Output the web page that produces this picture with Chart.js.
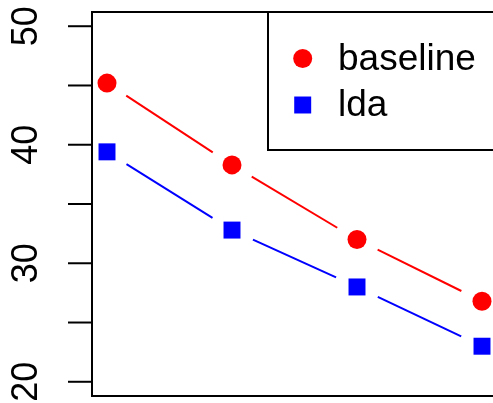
<!DOCTYPE html>
<html>
<head>
<meta charset="utf-8">
<script src="https://cdn.jsdelivr.net/npm/chart.js@4/dist/chart.umd.min.js"></script>
<style>
  html, body { margin: 0; padding: 0; background: #fff; overflow: hidden; }
  canvas { display: block; }
</style>
</head>
<body>
<canvas id="c" width="493" height="403"></canvas>
<script>
// x positions of the four runs
const categories = [1, 2, 3, 4];
// series values
const baseline = [45.2, 38.3, 32.0, 26.8];
const lda = [39.4, 32.8, 28.0, 23.0];
// y axis ticks and which of them carry a label
const yTickValues = [20, 25, 30, 35, 40, 45, 50];
const yTickLabels = ['20', '30', '40', '50'];

const FONT = '"Liberation Sans", Arial, Helvetica, sans-serif';

// R-style "b" lines: segments between points, leaving a gap around each marker
const gappedLines = {
  id: 'gappedLines',
  beforeDatasetsDraw(chart) {
    const ctx = chart.ctx;
    const gap = 23;
    chart.data.datasets.forEach((ds, i) => {
      const pts = chart.getDatasetMeta(i).data;
      ctx.save();
      ctx.strokeStyle = ds.borderColor;
      ctx.lineWidth = 2;
      for (let k = 0; k < pts.length - 1; k++) {
        const a = pts[k], b = pts[k + 1];
        const dx = b.x - a.x, dy = b.y - a.y;
        const len = Math.hypot(dx, dy);
        if (len <= 2 * gap) continue;
        const ux = dx / len, uy = dy / len;
        ctx.beginPath();
        ctx.moveTo(a.x + ux * gap, a.y + uy * gap);
        ctx.lineTo(b.x - ux * gap, b.y - uy * gap);
        ctx.stroke();
      }
      ctx.restore();
    });
  }
};

// plot frame (its right side runs past the canvas edge), left axis with
// rotated labels, and the top-right legend box
const frameAndLegend = {
  id: 'frameAndLegend',
  afterDraw(chart) {
    const ctx = chart.ctx;
    const area = chart.chartArea;
    const ys = chart.scales.y;
    const W = chart.width;
    ctx.save();
    ctx.strokeStyle = '#000';
    ctx.lineWidth = 2;
    ctx.lineCap = 'square';
    ctx.beginPath();
    ctx.moveTo(W + 5, area.top);
    ctx.lineTo(area.left, area.top);
    ctx.lineTo(area.left, area.bottom);
    ctx.lineTo(W + 5, area.bottom);
    ctx.stroke();

    // ticks
    ctx.lineCap = 'butt';
    yTickValues.forEach(v => {
      const py = ys.getPixelForValue(v);
      ctx.beginPath();
      ctx.moveTo(area.left - 24, py);
      ctx.lineTo(area.left, py);
      ctx.stroke();
    });
    // labels, reading bottom to top
    ctx.fillStyle = '#000';
    ctx.font = '36px ' + FONT;
    ctx.textAlign = 'center';
    ctx.textBaseline = 'alphabetic';
    yTickLabels.forEach(t => {
      const py = ys.getPixelForValue(Number(t));
      ctx.save();
      ctx.translate(37, py);
      ctx.rotate(-Math.PI / 2);
      ctx.fillText(t, 0, 0);
      ctx.restore();
    });

    // legend box
    const lx = 268, ly = area.top, lb = 150;
    ctx.fillStyle = '#fff';
    ctx.fillRect(lx, ly, W - lx + 10, lb - ly);
    ctx.strokeRect(lx, ly, W - lx + 10, lb - ly);
    ctx.font = '37px ' + FONT;
    ctx.textAlign = 'left';
    ctx.textBaseline = 'middle';
    chart.data.datasets.forEach((ds, i) => {
      const cy = 58.5 + i * 46.5;
      const cx = 302.7;
      ctx.fillStyle = ds.backgroundColor;
      if (ds.pointStyle === 'circle') {
        ctx.beginPath();
        ctx.arc(cx, cy, ds.pointRadius, 0, Math.PI * 2);
        ctx.fill();
      } else {
        const s = ds.pointRadius * Math.SQRT1_2;
        ctx.fillRect(cx - s, cy - s, 2 * s, 2 * s);
      }
      ctx.fillStyle = '#000';
      ctx.fillText(ds.label, 338, cy + 1);
    });
    ctx.restore();
  }
};

new Chart(document.getElementById('c'), {
  type: 'line',
  data: {
    datasets: [
      {
        label: 'baseline',
        data: categories.map((x, i) => ({ x, y: baseline[i] })),
        borderColor: '#ff0000',
        backgroundColor: '#ff0000',
        pointStyle: 'circle',
        pointRadius: 9.5,
        pointBorderWidth: 0,
        showLine: false,
        clip: false
      },
      {
        label: 'lda',
        data: categories.map((x, i) => ({ x, y: lda[i] })),
        borderColor: '#0000ff',
        backgroundColor: '#0000ff',
        pointStyle: 'rect',
        pointRadius: 12,
        pointBorderWidth: 0,
        showLine: false,
        clip: false
      }
    ]
  },
  options: {
    responsive: false,
    devicePixelRatio: 1,
    animation: false,
    events: [],
    layout: { autoPadding: false, padding: { left: 92, top: 12, right: 0, bottom: 7 } },
    plugins: { legend: { display: false }, tooltip: { enabled: false } },
    scales: {
      // the plotted range runs to 4.12; the canvas edge cuts it at about 4.088
      x: { type: 'linear', min: 0.88, max: 4.088, display: false },
      y: { type: 'linear', min: 18.8, max: 51.2, display: false }
    }
  },
  plugins: [gappedLines, frameAndLegend]
});
</script>
</body>
</html>
